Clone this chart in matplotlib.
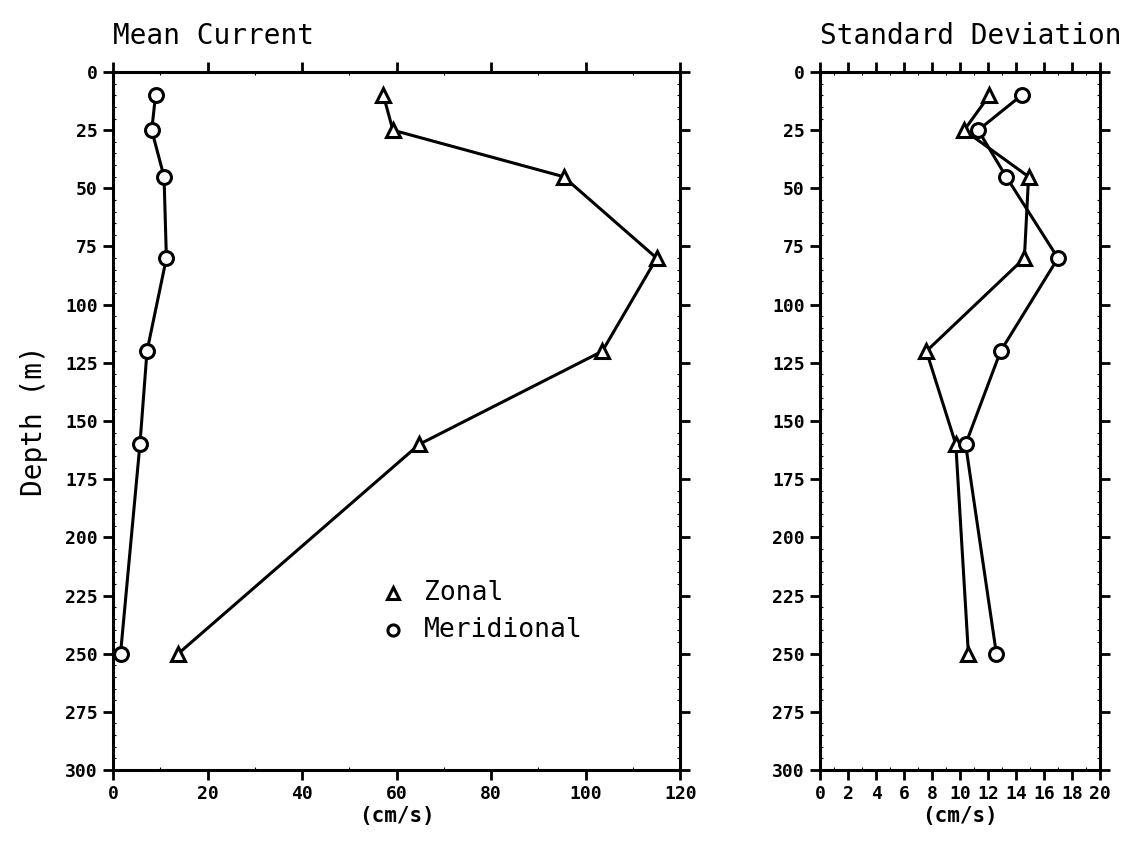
import matplotlib
matplotlib.use("Agg")
import matplotlib.pyplot as plt
from matplotlib.ticker import MultipleLocator

# measurement depths (m)
depth = [10, 25, 45, 80, 120, 160, 250]

# mean current (cm/s)
mean_zonal = [57.2, 59.2, 95.3, 115.0, 103.5, 64.8, 13.8]
mean_merid = [9.0, 8.2, 10.8, 11.3, 7.2, 5.7, 1.6]

# standard deviation (cm/s)
std_zonal = [12.1, 10.3, 14.9, 14.6, 7.6, 9.7, 10.6]
std_merid = [14.4, 11.3, 13.3, 17.0, 12.9, 10.4, 12.6]

depth_ticks = list(range(0, 301, 25))

plt.rcParams['font.family'] = ['DejaVu Sans Mono']
line_kw = dict(color='black', lw=2.2, markersize=10, markeredgewidth=2.2,
               markerfacecolor='white', clip_on=False)


def style_axis(ax, xmax, xmajor, xminor):
    ax.set_xlim(0, xmax)
    ax.set_ylim(300, 0)
    ax.set_yticks(depth_ticks)
    ax.xaxis.set_major_locator(MultipleLocator(xmajor))
    ax.xaxis.set_minor_locator(MultipleLocator(xminor))
    ax.yaxis.set_minor_locator(MultipleLocator(5))
    ax.tick_params(which='major', direction='out', length=7, width=2.0,
                   top=True, right=True, labelsize=13, pad=4)
    ax.tick_params(which='minor', direction='in', length=2, width=0.8,
                   top=True, right=True)
    for lab in ax.get_xticklabels() + ax.get_yticklabels():
        lab.set_fontweight('bold')
    for sp in ax.spines.values():
        sp.set_linewidth(2.2)
    ax.set_xlabel('(cm/s)', fontsize=15, fontweight='bold', labelpad=2)


fig = plt.figure(figsize=(11.32, 8.42), dpi=100)

ax1 = fig.add_axes([0.0998, 0.0855, 0.5012, 0.829])
ax1.plot(mean_zonal, depth, marker='^', **line_kw)
ax1.plot(mean_merid, depth, marker='o', **line_kw)
style_axis(ax1, 120, 20, 10)
ax1.set_ylabel('Depth (m)', fontsize=20, labelpad=12)
ax1.set_title('Mean Current', fontsize=20, loc='left', x=0.0, pad=20)

# legend drawn as markers + text inside the axes
for yy, mk, name in [(0.2536, '^', 'Zonal'), (0.2006, 'o', 'Meridional')]:
    ax1.plot([0.494], [yy], marker=mk, color='black', markersize=8,
             markeredgewidth=2.2, markerfacecolor='white', transform=ax1.transAxes)
    ax1.text(0.548, yy, name, fontsize=19, va='center', transform=ax1.transAxes)

ax2 = fig.add_axes([0.7244, 0.0855, 0.2473, 0.829])
ax2.plot(std_zonal, depth, marker='^', **line_kw)
ax2.plot(std_merid, depth, marker='o', **line_kw)
style_axis(ax2, 20, 2, 1)
ax2.set_title('Standard Deviation', fontsize=20, loc='left', x=0.0, pad=20)

fig.savefig('out.png', dpi=100)
